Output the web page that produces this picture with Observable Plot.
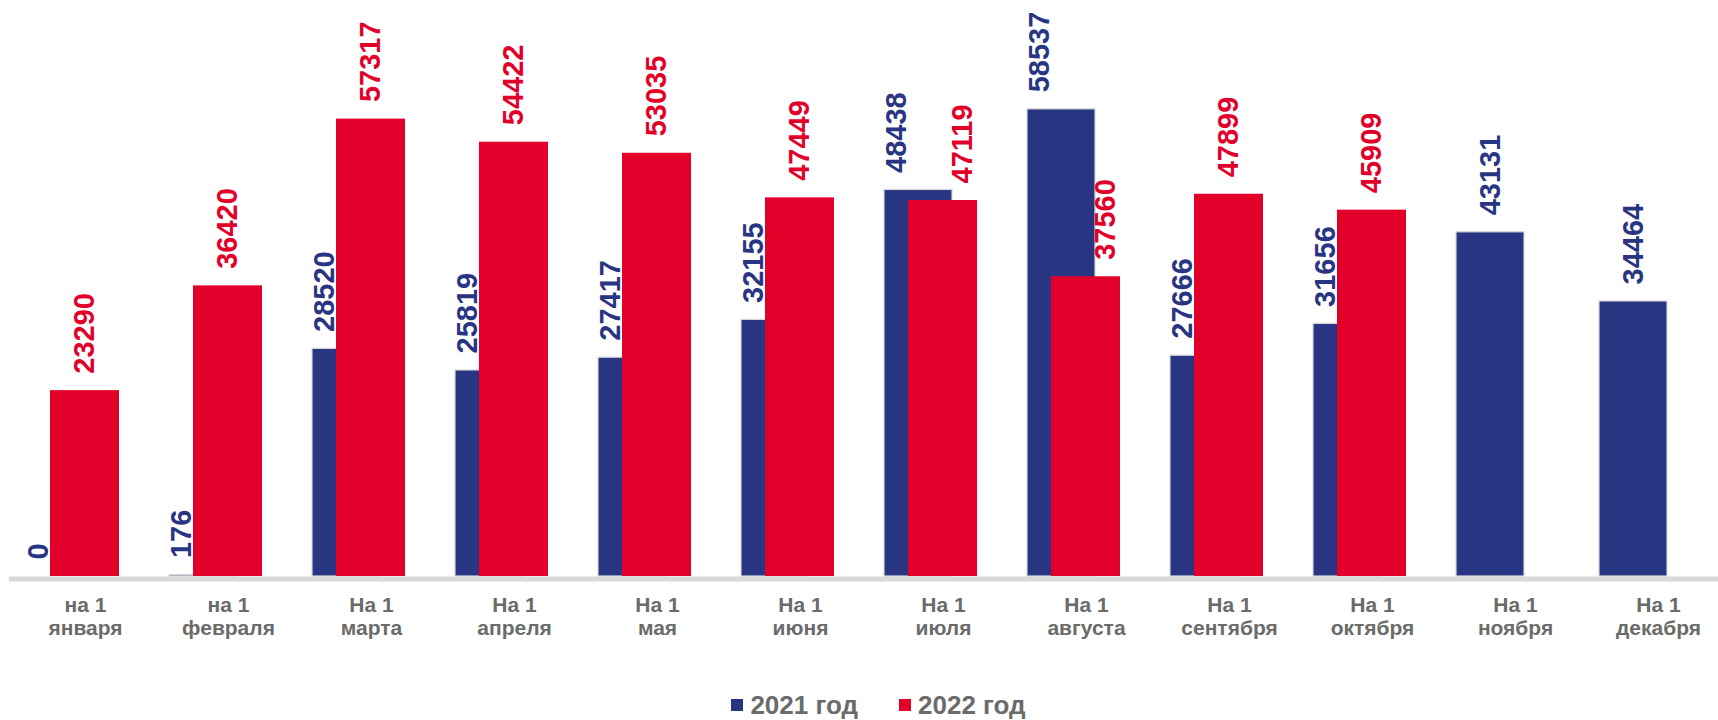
<!DOCTYPE html>
<html>
<head>
<meta charset="utf-8">
<script src="https://cdn.jsdelivr.net/npm/d3@7"></script>
<script src="https://cdn.jsdelivr.net/npm/@observablehq/plot@0.6"></script>
<style>
  html, body { margin: 0; padding: 0; background: #ffffff; }
  body { font-family: "Liberation Sans", Arial, sans-serif; width: 1718px; }
  #legend {
    display: flex; justify-content: center; align-items: center;
    height: 30px; padding-left: 39px;
    font-weight: bold; font-size: 26px; color: #6b6b6b;
    font-family: "Liberation Sans", Arial, sans-serif;
  }
  .item { display: flex; align-items: center; }
  .sw { width: 12px; height: 12px; display: inline-block; margin-right: 7px; }
  .gap { width: 41px; }
</style>
</head>
<body>
<div id="chart"></div>
<div id="legend"></div>
<script>
// ---- data ----
const prefixes = ["на 1", "на 1", "На 1", "На 1", "На 1", "На 1", "На 1", "На 1", "На 1", "На 1", "На 1", "На 1"];
const months = ["января", "февраля", "марта", "апреля", "мая", "июня", "июля", "августа", "сентября", "октября", "ноября", "декабря"];
const values2021 = [0, 176, 28520, 25819, 27417, 32155, 48438, 58537, 27666, 31656, 43131, 34464];
const values2022 = [23290, 36420, 57317, 54422, 53035, 47449, 47119, 37560, 47899, 45909, null, null];
const seriesNames = ["2021 год", "2022 год"];
const colors = ["#283583", "#e2002b"];
const textGray = "#6b6b6b";

const rows = months.map((m, i) => ({
  month: m, prefix: prefixes[i], v2021: values2021[i], v2022: values2022[i]
}));
const withRed = rows.filter(d => d.v2022 != null);
const blueOnly = rows.filter(d => d.v2022 == null);
const redLow = withRed.filter(d => d.v2021 > d.v2022);
const redHigh = withRed.filter(d => !(d.v2021 > d.v2022));

const labelStyle = {
  rotate: -90, textAnchor: "start", lineAnchor: "middle",
  fontSize: 29, fontWeight: "bold", dy: -17
};

const chart = Plot.plot({
  width: 1718,
  height: 690,
  marginLeft: 9,
  marginRight: 0,
  marginTop: 0,
  marginBottom: 0,
  style: { fontFamily: "'Liberation Sans', Arial, sans-serif", background: "#ffffff" },
  x: { type: "band", domain: months, range: [-3.3, 1720.6], paddingInner: 0.3526, paddingOuter: 0.1763, axis: null },
  y: { domain: [0, 60000], range: [576, 97.2], axis: null },
  marks: [
    Plot.ruleY([0], { stroke: "#d9d9d9", strokeWidth: 5, dy: 2.5 }),
    Plot.barY(rows, { x: "month", y: "v2021", fill: colors[0], stroke: "#d6d6d6", strokeWidth: 1.2, insetRight: 25 }),
    Plot.barY(withRed, { x: "month", y: "v2022", fill: colors[1], insetLeft: 24 }),
    // value labels 2021
    Plot.text(withRed, { x: "month", y: "v2021", text: d => String(d.v2021), fill: colors[0], dx: -34.5, ...labelStyle }),
    Plot.text(blueOnly, { x: "month", y: "v2021", text: d => String(d.v2021), fill: colors[0], dx: -12.5, ...labelStyle }),
    // value labels 2022
    Plot.text(redHigh, { x: "month", y: "v2022", text: d => String(d.v2022), fill: colors[1], dx: 12, ...labelStyle }),
    Plot.text(redLow, { x: "month", y: "v2022", text: d => String(d.v2022), fill: colors[1], dx: 32, ...labelStyle }),
    // category labels
    Plot.text(rows, { x: "month", y: d => 0, text: "prefix", fill: textGray, fontSize: 21, fontWeight: "bold", lineAnchor: "middle", dx: 12.5, dy: 29 }),
    Plot.text(rows, { x: "month", y: d => 0, text: "month", fill: textGray, fontSize: 21, fontWeight: "bold", lineAnchor: "middle", dx: 12.5, dy: 52 })
  ]
});
document.getElementById("chart").appendChild(chart);

// legend
const legend = document.getElementById("legend");
seriesNames.forEach((name, i) => {
  if (i > 0) { const g = document.createElement("span"); g.className = "gap"; legend.appendChild(g); }
  const item = document.createElement("span");
  item.className = "item";
  const sw = document.createElement("span");
  sw.className = "sw";
  sw.style.background = colors[i];
  const label = document.createElement("span");
  label.textContent = name;
  item.appendChild(sw);
  item.appendChild(label);
  legend.appendChild(item);
});
</script>
</body>
</html>
